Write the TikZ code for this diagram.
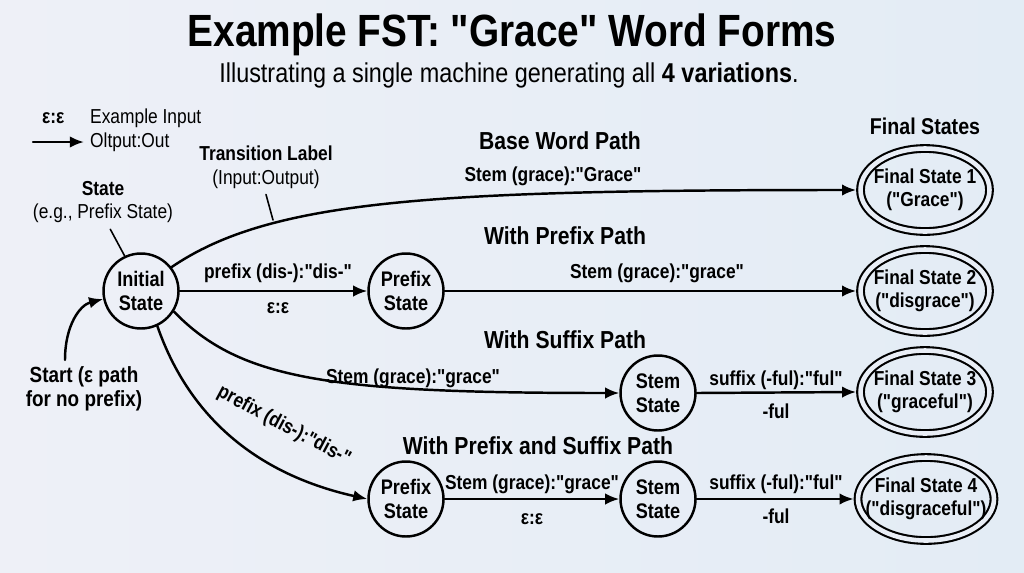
\documentclass[tikz,border=0pt]{standalone}
\usepackage{fontspec}
\setmainfont{Liberation Sans}[FakeStretch=0.86,Ligatures=TeXOff]
\usetikzlibrary{arrows.meta,shapes.geometric}

\definecolor{bgleft}{RGB}{238,240,247}
\definecolor{bgright}{RGB}{227,236,245}
\definecolor{bgmid}{RGB}{233,238,246}

\begin{document}
\begin{tikzpicture}[
  x=0.02cm,
  y=-0.02cm,
  line cap=round,
  line join=round,
  state/.style={
    circle,
    draw=black,
    line width=1.4pt,
    minimum size=1.5cm,
    inner sep=0pt,
    align=center,
    font=\fontsize{12}{13.5}\selectfont\bfseries
  },
  final/.style={
    ellipse,
    draw=black,
    line width=1.2pt,
    double=bgmid,
    double distance=2.6pt,
    minimum width=2.58cm,
    minimum height=1.66cm,
    inner xsep=-7pt,
    inner ysep=1pt,
    outer sep=2.5pt,
    align=center,
    font=\fontsize{11.5}{13}\selectfont\bfseries
  },
  trans/.style={
    draw=black,
    line width=1.4pt,
    -{Latex[length=8pt,width=6.5pt]}
  },
  leader/.style={
    draw=black,
    line width=0.9pt
  },
  lbl/.style={
    font=\fontsize{11.5}{13}\selectfont\bfseries,
    inner sep=1pt
  },
  pathtitle/.style={
    font=\fontsize{14}{16}\selectfont\bfseries
  },
  note/.style={
    font=\fontsize{11.5}{13.5}\selectfont,
    align=center
  }
]

  % 背景
  \shade[left color=bgleft, right color=bgright]
    (0,0) rectangle (1024,572);

  % 标题
  \node[font=\fontsize{25.7}{30}\selectfont\bfseries] (title)
    at (512,35) {Example FST: "Grace" Word Forms};
  \node[font=\fontsize{15.5}{18}\selectfont] (subtitle)
    at (509,75) {Illustrating a single machine generating all \textbf{4 variations}.};

  % 图例
  \node[lbl, anchor=west] (legeps) at (40,118) {ε:ε};
  \node[note, anchor=west] (legin) at (84,118) {Example Input};
  \node[note, anchor=west] (legout) at (84,142) {Oltput:Out};
  \coordinate (legtail) at (33,142);
  \draw[trans] (legtail) -- (legout.west);

  % 状态
  \node[state] (init) at (141,291) {Initial\\State};
  \node[state] (pref1) at (406,291) {Prefix\\State};
  \node[state] (stem3) at (658,393) {Stem\\State};
  \node[state] (pref4) at (406,499) {Prefix\\State};
  \node[state] (stem4) at (658,499) {Stem\\State};

  % 终止状态
  \node[pathtitle, font=\fontsize{13}{15}\selectfont\bfseries] (finhead)
    at (925,126) {Final States};
  \node[final] (fin1) at (925,190) {Final State 1\\("Grace")};
  \node[final] (fin2) at (925,291) {Final State 2\\("disgrace")};
  \node[final] (fin3) at (925,392) {Final State 3\\("graceful")};
  \node[final] (fin4) at (926,499) {Final State 4\\("disgraceful")};

  % 路径标题
  \node[pathtitle] (titlea) at (560,141) {Base Word Path};
  \node[pathtitle] (titleb) at (565,236) {With Prefix Path};
  \node[pathtitle] (titlec) at (565,340) {With Suffix Path};
  \node[pathtitle] (titled) at (538,446) {With Prefix and Suffix Path};

  % 基本路径
  \draw[trans]
    (init.38)
    .. controls (270,200) and (430,190) ..
    (fin1.west);
  \node[lbl] (lbla) at (553,176) {Stem (grace):"Grace"};

  % 前缀路径
  \draw[trans] (init.east) -- (pref1.west);
  \node[lbl] (lblb) at (278,273) {prefix (dis-):"dis-"};
  \node[lbl] (lblbe) at (278,308) {ε:ε};

  \draw[trans] (pref1.east) -- (fin2.west);
  \node[lbl] (lblc) at (657,273) {Stem (grace):"grace"};

  % 后缀路径
  \draw[trans]
    (init.-32)
    .. controls (240,380) and (330,393) ..
    (stem3.west);
  \node[lbl] (lbld) at (413,378) {Stem (grace):"grace"};

  \draw[trans] (stem3.east) -- (fin3.west);
  \node[lbl] (lble) at (776,380) {suffix (-ful):"ful"};
  \node[lbl] (lblee) at (776,411) {-ful};

  % 前缀和后缀路径
  \draw[trans]
    (init.-65)
    .. controls (190,420) and (260,475) ..
    (pref4.west);
  \node[lbl, rotate=-28] (lblf) at (284,426) {prefix (dis-):"dis-"};

  \draw[trans] (pref4.east) -- (stem4.west);
  \node[lbl] (lblg) at (532,484) {Stem (grace):"grace"};
  \node[lbl] (lblge) at (532,519) {ε:ε};

  \draw[trans] (stem4.east) -- (fin4.west);
  \node[lbl] (lblh) at (776,484) {suffix (-ful):"ful"};
  \node[lbl] (lblhe) at (776,516) {-ful};

  % 起始箭头
  \coordinate (startpt) at (65,360);
  \draw[trans]
    (startpt)
    .. controls (65,325) and (80,305) ..
    (init.192);
  \node[note, font=\fontsize{12.5}{14}\selectfont\bfseries] (startlbl)
    at (84,389) {Start (ε path\\for no prefix)};

  % 说明
  \node[note] (tlabel) at (266,167)
    {\textbf{Transition Label}\\(Input:Output)};
  \coordinate (tlabelpt) at (273,220);
  \draw[leader] (tlabel.south) -- (tlabelpt);

  \node[note] (statelbl) at (103,202)
    {\textbf{State}\\(e.g., Prefix State)};
  \draw[leader] (statelbl.-75) -- (init.115);

  \path[use as bounding box]
    (0,0) rectangle (1024,572);

\end{tikzpicture}
\end{document}
